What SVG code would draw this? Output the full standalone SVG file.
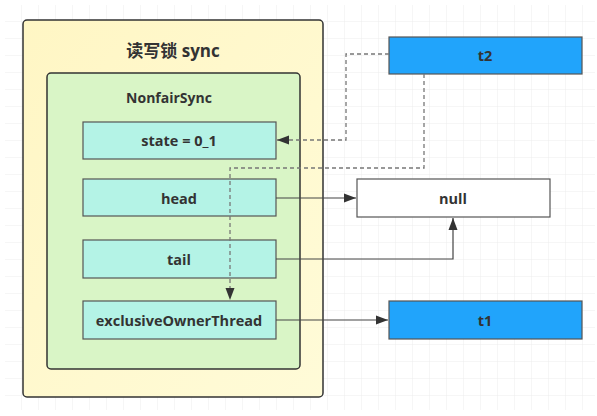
<svg xmlns="http://www.w3.org/2000/svg" width="597" height="416" viewBox="0 0 597 416">
<defs>
<pattern id="grid" width="17" height="17" patternUnits="userSpaceOnUse" x="5" y="5">
<path d="M17 0V17H0" fill="none" stroke="#ececec" stroke-width="1"/>
</pattern>
<linearGradient id="yel" x1="0" y1="0" x2="1" y2="1">
<stop offset="0" stop-color="#fff6c4"/>
<stop offset="1" stop-color="#fffbd8"/>
</linearGradient>
<marker id="arr" viewBox="0 0 12 10" refX="12" refY="5" markerWidth="12" markerHeight="10" markerUnits="userSpaceOnUse" orient="auto">
<path d="M0 0.5L12 5L0 9.5Z" fill="#333"/>
</marker>
<style>
.t{font-family:"Open Sans","Liberation Sans",sans-serif;font-weight:bold;fill:#333;text-anchor:middle;dominant-baseline:central}
.f{fill:#b4f3e6;stroke:#555;stroke-width:1.2}
.b{fill:#21a4fb;stroke:#555;stroke-width:1.2}
.c{fill:none;stroke:#444;stroke-width:1.2}
.d{fill:none;stroke:#777;stroke-width:1.3;stroke-dasharray:4 3}
</style>
</defs>
<rect x="5" y="5" width="590" height="405" fill="url(#grid)"/>
<g id="sync">
<rect x="23" y="20" width="300" height="377" rx="4" fill="url(#yel)" stroke="#333" stroke-width="1.5"/>
<text class="t" x="173" y="50" font-size="17" style="font-family:'Open Sans','Noto Sans CJK SC',sans-serif">读写锁 sync</text>
</g>
<g id="nonfair">
<rect x="47" y="73" width="253" height="296" rx="4" fill="#d9f5c6" stroke="#333" stroke-width="1.5"/>
<text class="t" x="169" y="97" font-size="14">NonfairSync</text>
</g>
<g id="state">
<rect class="f" x="83" y="122" width="193" height="37"/>
<text class="t" x="179" y="140" font-size="14.5">state = 0_1</text>
</g>
<g id="head">
<rect class="f" x="83" y="179" width="193" height="37"/>
<text class="t" x="179" y="198" font-size="14.5">head</text>
</g>
<g id="tail">
<rect class="f" x="83" y="240" width="193" height="38"/>
<text class="t" x="179" y="259" font-size="14.5">tail</text>
</g>
<g id="exclusiveOwnerThread">
<rect class="f" x="83" y="301" width="193" height="38"/>
<text class="t" x="179" y="320" font-size="14.5">exclusiveOwnerThread</text>
</g>
<g id="t2">
<rect class="b" x="389" y="37" width="193" height="37"/>
<text class="t" x="485" y="55" font-size="14.5">t2</text>
</g>
<g id="null">
<rect x="357" y="179" width="193" height="38" fill="#fff" stroke="#555" stroke-width="1.2"/>
<text class="t" x="453" y="198" font-size="14.5">null</text>
</g>
<g id="t1">
<rect class="b" x="389" y="301" width="193" height="38"/>
<text class="t" x="485" y="320" font-size="14.5">t1</text>
</g>
<g id="connectors">
<path class="d" d="M389 54H346V140H277" marker-end="url(#arr)"/>
<path class="d" d="M424 74V168H230V300" marker-end="url(#arr)"/>
<path class="c" d="M276 198H356" marker-end="url(#arr)"/>
<path class="c" d="M276 259H453V218" marker-end="url(#arr)"/>
<path class="c" d="M276 320H388" marker-end="url(#arr)"/>
</g>
</svg>
